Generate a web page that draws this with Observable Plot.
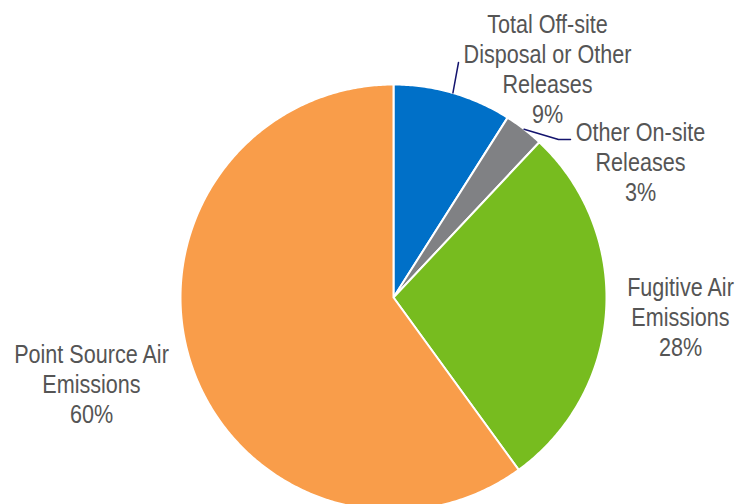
<!DOCTYPE html>
<html>
<head>
<meta charset="utf-8">
<script src="https://cdn.jsdelivr.net/npm/d3@7"></script>
<script src="https://cdn.jsdelivr.net/npm/@observablehq/plot@0.6"></script>
<style>
  html, body { margin: 0; padding: 0; background: #fff; }
  #chart svg { display: block; }
</style>
</head>
<body>
<div id="chart"></div>
<script>
// ---- data ----
const categories = ["Total Off-site Disposal or Other Releases", "Other On-site Releases", "Fugitive Air Emissions", "Point Source Air Emissions"];
const labelText = ["Total Off-site\nDisposal or Other\nReleases", "Other On-site\nReleases", "Fugitive Air\nEmissions", "Point Source Air\nEmissions"];
const shares = [9, 3, 28, 60];
const colors = ["#0070C8", "#808184", "#77BC1F", "#F99D4A"];

// ---- layout (pixels) ----
const W = 737, H = 504;
const cx = 393, cy = 297, R = 213;
const labelPos = [[547, 68], [640, 161], [680, 316], [91, 383]];
const leaderEnd = [[[458, 62]], [[558, 139], [570, 139]], null, null];
const narrow = 0.83;

const total = d3.sum(shares);
let acc = 0;
const slices = shares.map((v, i) => {
  const a0 = acc / total * 2 * Math.PI;
  acc += v;
  const a1 = acc / total * 2 * Math.PI;
  return {i, a0, a1, mid: (a0 + a1) / 2};
});
const pt = (a, r) => [cx + r * Math.sin(a), cy - r * Math.cos(a)];

const polyPts = [];
for (const s of slices) {
  const n = Math.max(4, Math.ceil((s.a1 - s.a0) / 0.01));
  polyPts.push({k: s.i, x: cx, y: cy});
  for (let j = 0; j <= n; j++) {
    const [x, y] = pt(s.a0 + (s.a1 - s.a0) * j / n, R);
    polyPts.push({k: s.i, x, y});
  }
  polyPts.push({k: s.i, x: cx, y: cy});
}

const leaderPts = [];
slices.forEach((s, i) => {
  if (!leaderEnd[i]) return;
  const [x0, y0] = pt(s.mid, R);
  leaderPts.push({k: i, x: x0, y: y0});
  for (const [x, y] of leaderEnd[i]) leaderPts.push({k: i, x, y});
});

const labels = categories.map((c, i) => ({
  text: labelText[i] + "\n" + shares[i] + "%",
  x: labelPos[i][0], y: labelPos[i][1]
}));

const chart = Plot.plot({
  width: W, height: H,
  margin: 0,
  x: {domain: [0, W], range: [0, W], axis: null},
  y: {domain: [0, H], range: [0, H], axis: null},
  style: {fontFamily: "'Liberation Sans', Arial, sans-serif", background: "#fff"},
  marks: [
    Plot.line(polyPts, {x: "x", y: "y", z: "k", fill: d => colors[d.k], stroke: "#fff", strokeWidth: 2, strokeLinejoin: "round", curve: "linear"}),
    Plot.line(leaderPts, {x: "x", y: "y", z: "k", stroke: "#14146e", strokeWidth: 1.5, curve: "linear"}),
    Plot.text(labels, {x: "x", y: "y", text: "text", fontSize: 26, lineHeight: 1.16, fill: "#555555", textAnchor: "middle", lineAnchor: "middle"})
  ]
});
// condense label glyphs horizontally (Arial Narrow look)
chart.querySelectorAll('g[aria-label="text"] text').forEach(t => {
  const tr = t.getAttribute("transform") || "";
  t.setAttribute("transform", tr + ` scale(${narrow},1)`);
});
document.getElementById("chart").appendChild(chart);
</script>
</body>
</html>
